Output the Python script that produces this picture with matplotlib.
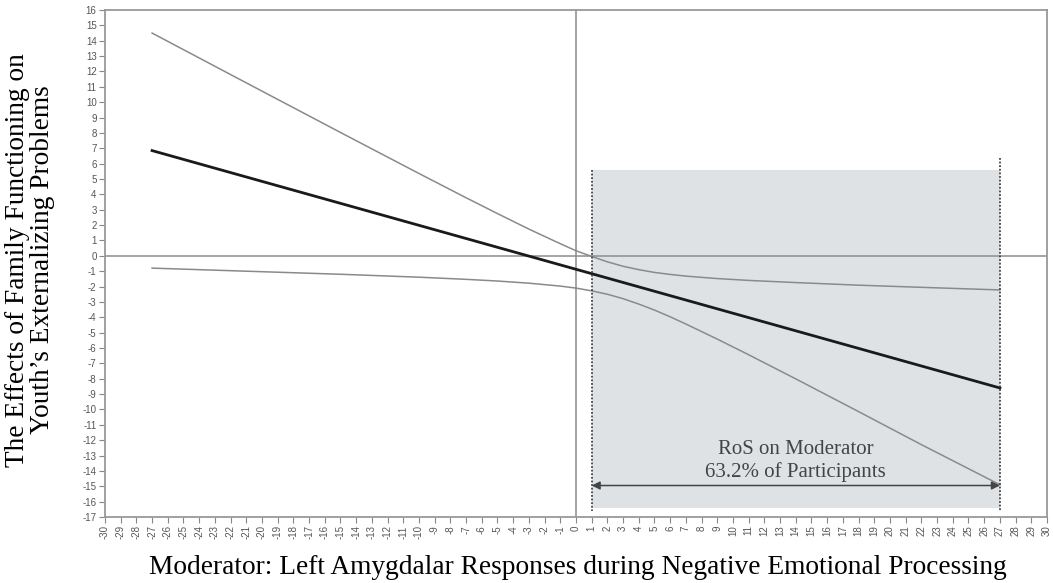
import numpy as np
from matplotlib import pyplot as plt

# moderator values and the conditional effect
mod_x = [-27, -21, -15, -10, -7, -5, -3, -1, 0, 1, 2, 3, 4, 5, 6, 7, 9, 11, 14, 18, 22, 27]
upper_ci = [14.50, 11.26, 8.03, 5.36, 3.78, 2.75, 1.74, 0.79, 0.33, -0.04, -0.39, -0.68,
            -0.90, -1.08, -1.21, -1.32, -1.48, -1.60, -1.74, -1.91, -2.05, -2.22]
lower_ci = [-0.80, -1.00, -1.20, -1.39, -1.53, -1.64, -1.78, -1.97, -2.10, -2.28, -2.50, -2.79,
            -3.14, -3.53, -3.97, -4.44, -5.42, -6.44, -8.01, -10.14, -12.29, -14.90]
effect_x = [-27, 27]
effect_y = [6.85, -8.60]

# region of significance
ros_start = 1
ros_end = 27
ros_top = 5.6
ros_bottom = -16.4
ros_label = "RoS on Moderator\n63.2% of Participants"

x_ticks = list(range(-30, 31))
y_ticks = list(range(-17, 17))

plt.rcParams['font.family'] = ['Liberation Sans', 'DejaVu Sans']
plt.rcParams['axes.unicode_minus'] = False

fig = plt.figure(figsize=(10.53, 5.83), dpi=100)
ax = fig.add_axes([0.0997, 0.1132, 0.8946, 0.8696])

# shaded region + dotted borders
ax.fill_between([ros_start, ros_end], ros_bottom, ros_top, color='#dfe2e5', lw=0, zorder=0)
ax.plot([ros_start, ros_start], [ros_top, -16.6], ls=(0, (1, 1)), color='#444444', lw=1.3, zorder=3)
ax.plot([ros_end, ros_end], [6.4, -16.6], ls=(0, (1, 1)), color='#444444', lw=1.3, zorder=3)

# zero lines
ax.axhline(0, color='#8c8c8c', lw=1.1, zorder=1)
ax.axvline(0, color='#8c8c8c', lw=1.1, zorder=1)

# confidence bands and effect line
ax.plot(mod_x, upper_ci, color='#8a8a8a', lw=1.1, zorder=2)
ax.plot(mod_x, lower_ci, color='#8a8a8a', lw=1.1, zorder=2)
ax.plot(effect_x, effect_y, color='#1a1a1a', lw=2.0, zorder=2)

# arrow + label
ax.annotate('', xy=(ros_end, -14.95), xytext=(ros_start, -14.95),
            arrowprops=dict(arrowstyle='<|-|>', color='#444444', lw=1.1,
                            mutation_scale=12, shrinkA=0, shrinkB=0), zorder=4)
ax.text(14.0, -13.35, ros_label, ha='center', va='center',
        fontsize=15, family='Liberation Serif', color='#444444', linespacing=1.15, zorder=4)

ax.set_xlim(-30, 30)
ax.set_ylim(-17, 16)
ax.set_xticks(x_ticks)
ax.set_yticks(y_ticks)
ax.tick_params(axis='x', labelrotation=90, labelsize=7, length=4, color='#888888',
               labelcolor='#555555', pad=2)
ax.tick_params(axis='y', labelsize=7, length=4, color='#888888', labelcolor='#555555', pad=2)
for s in ax.spines.values():
    s.set_color('#999999')
    s.set_linewidth(1.3)

# axis titles
fig.text(30 / 1053, 1 - 260 / 583,
         "The Effects of Family Functioning on\nYouth\u2019s Externalizing Problems",
         rotation=90, ha='center', va='center', family='Liberation Serif',
         fontsize=19.7, linespacing=1.05)
fig.text(578 / 1053, 1 - 567 / 583,
         "Moderator: Left Amygdalar Responses during Negative Emotional Processing",
         ha='center', va='center', family='Liberation Serif', fontsize=19.7)

plt.savefig('out.png', dpi=100)
